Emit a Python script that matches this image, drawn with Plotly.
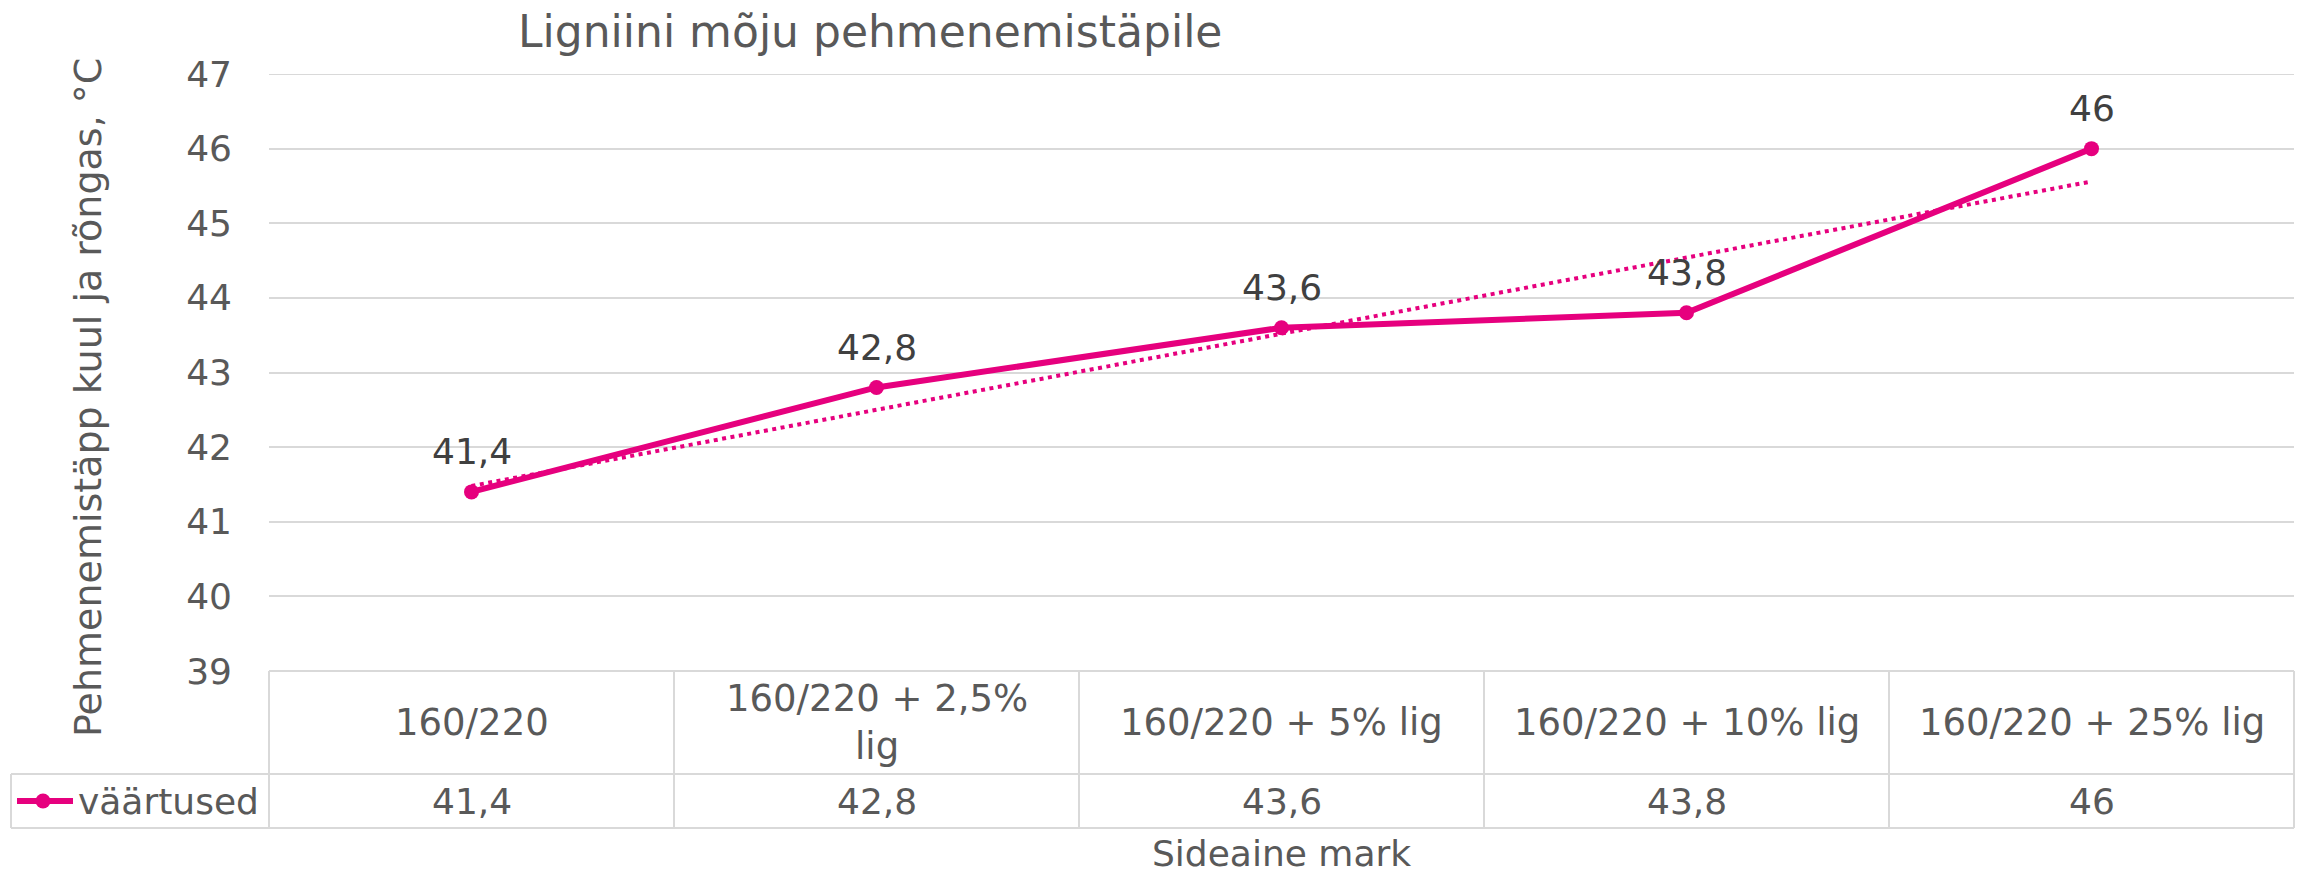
import numpy as np
import plotly.graph_objects as go

# ---- data ----
categories = ["160/220", "160/220 + 2,5% lig", "160/220 + 5% lig", "160/220 + 10% lig", "160/220 + 25% lig"]
category_labels = ["160/220", "160/220 + 2,5%<br>lig", "160/220 + 5% lig", "160/220 + 10% lig", "160/220 + 25% lig"]
values = [41.4, 42.8, 43.6, 43.8, 46]
series_name = "väärtused"
y_ticks = [39, 40, 41, 42, 43, 44, 45, 46, 47]
title_text = "Ligniini mõju pehmenemistäpile"
y_title = "Pehmenemistäpp kuul ja rõngas, °C"
x_title = "Sideaine mark"

# ---- style ----
W, H = 2302, 874
L, R, T, B = 269, 2294, 74, 671
PINK = "#E6007E"
GRID = "#D9D9D9"
TXT = "#595959"
DARK = "#404040"
FONT = "DejaVu Sans"

def px_x(px):
    return (px - L) / (R - L)

def px_y(py):
    return (B - py) / (B - T)

def fmt(v):
    return f"{v:g}".replace(".", ",")

# linear trendline (least squares over category index, as in spreadsheet)
idx = np.arange(len(values))
slope, intercept = np.polyfit(idx, values, 1)
trend = slope * idx + intercept

fig = go.Figure()
fig.add_trace(go.Scatter(
    x=categories, y=trend, mode="lines",
    line=dict(color=PINK, width=4, dash="4px,4.5px"),
    hoverinfo="skip", showlegend=False,
))
fig.add_trace(go.Scatter(
    x=categories, y=values, mode="lines+markers", name=series_name,
    line=dict(color=PINK, width=6),
    marker=dict(color=PINK, size=15),
    showlegend=False,
))

annotations = []
# data labels
for c, v in zip(categories, values):
    annotations.append(dict(x=c, y=v, xref="x", yref="y", text=fmt(v), showarrow=False,
                            yshift=40, yanchor="middle",
                            font=dict(family=FONT, size=36, color=DARK)))
# table: category row and value row
row1_y = px_y((671 + 774) / 2)
row2_y = px_y((774 + 828) / 2)
for c, lab, v in zip(categories, category_labels, values):
    annotations.append(dict(x=c, y=row1_y, xref="x", yref="paper", text=lab, showarrow=False,
                            yanchor="middle", align="center",
                            font=dict(family=FONT, size=37, color=TXT)))
    annotations.append(dict(x=c, y=row2_y, xref="x", yref="paper", text=fmt(v), showarrow=False,
                            yanchor="middle",
                            font=dict(family=FONT, size=36, color=TXT)))
# legend key text
annotations.append(dict(x=px_x(76), y=row2_y, xref="paper", yref="paper", text=series_name,
                        showarrow=False, xanchor="left", yanchor="middle",
                        font=dict(family=FONT, size=36, color=TXT)))
# title
annotations.append(dict(x=px_x(870), y=px_y(31), xref="paper", yref="paper", text=title_text,
                        showarrow=False, xanchor="center", yanchor="middle",
                        font=dict(family=FONT, size=44, color=TXT)))
# y-axis title
annotations.append(dict(x=px_x(88), y=px_y(398), xref="paper", yref="paper", text=y_title,
                        showarrow=False, textangle=-90, xanchor="center", yanchor="middle",
                        font=dict(family=FONT, size=38, color=TXT)))
# x-axis title
annotations.append(dict(x=px_x((L + R) / 2), y=px_y(853), xref="paper", yref="paper", text=x_title,
                        showarrow=False, xanchor="center", yanchor="middle",
                        font=dict(family=FONT, size=36, color=TXT)))

shapes = []
def hline(x0, x1, y):
    shapes.append(dict(type="line", xref="paper", yref="paper", x0=px_x(x0), x1=px_x(x1),
                       y0=px_y(y), y1=px_y(y), line=dict(color=GRID, width=2), layer="below"))
def vline(x, y0, y1):
    shapes.append(dict(type="line", xref="paper", yref="paper", x0=px_x(x), x1=px_x(x),
                       y0=px_y(y0), y1=px_y(y1), line=dict(color=GRID, width=2), layer="below"))

# top gridline (range edge)
shapes.append(dict(type="line", xref="paper", yref="y", x0=0, x1=1, y0=y_ticks[-1], y1=y_ticks[-1],
                   line=dict(color=GRID, width=2), layer="below"))
hline(L, R, 671)
hline(11, R, 774)
hline(11, R, 828)
n = len(categories)
for i in range(n + 1):
    vline(L + (R - L) * i / n, 671, 828)
vline(11, 774, 828)
# legend key symbol
shapes.append(dict(type="line", xref="paper", yref="paper", x0=px_x(17), x1=px_x(73),
                   y0=row2_y, y1=row2_y, line=dict(color=PINK, width=6)))
shapes.append(dict(type="circle", xref="paper", yref="paper", x0=px_x(43 - 7.5), x1=px_x(43 + 7.5),
                   y0=px_y(801 + 7.5), y1=px_y(801 - 7.5), fillcolor=PINK, line=dict(width=0)))

fig.update_layout(
    width=W, height=H,
    margin=dict(l=L, r=W - R, t=T, b=H - B, pad=0),
    paper_bgcolor="white", plot_bgcolor="white",
    showlegend=False,
    font=dict(family=FONT, size=36, color=TXT),
    xaxis=dict(type="category", categoryorder="array", categoryarray=categories,
               range=[-0.5, n - 0.5], showticklabels=False, showgrid=False,
               zeroline=False, showline=False, ticks=""),
    yaxis=dict(range=[y_ticks[0], y_ticks[-1]], tickmode="array", tickvals=y_ticks,
               ticktext=[str(t) for t in y_ticks],
               showgrid=True, gridcolor=GRID, gridwidth=2, zeroline=False, showline=False,
               ticks="", ticklabelstandoff=36,
               tickfont=dict(family=FONT, size=36, color=TXT)),
    annotations=annotations,
    shapes=shapes,
)

fig.write_html("out.html", config={"displayModeBar": False},
               post_script="document.body.style.margin='0';document.body.style.overflow='hidden';")
